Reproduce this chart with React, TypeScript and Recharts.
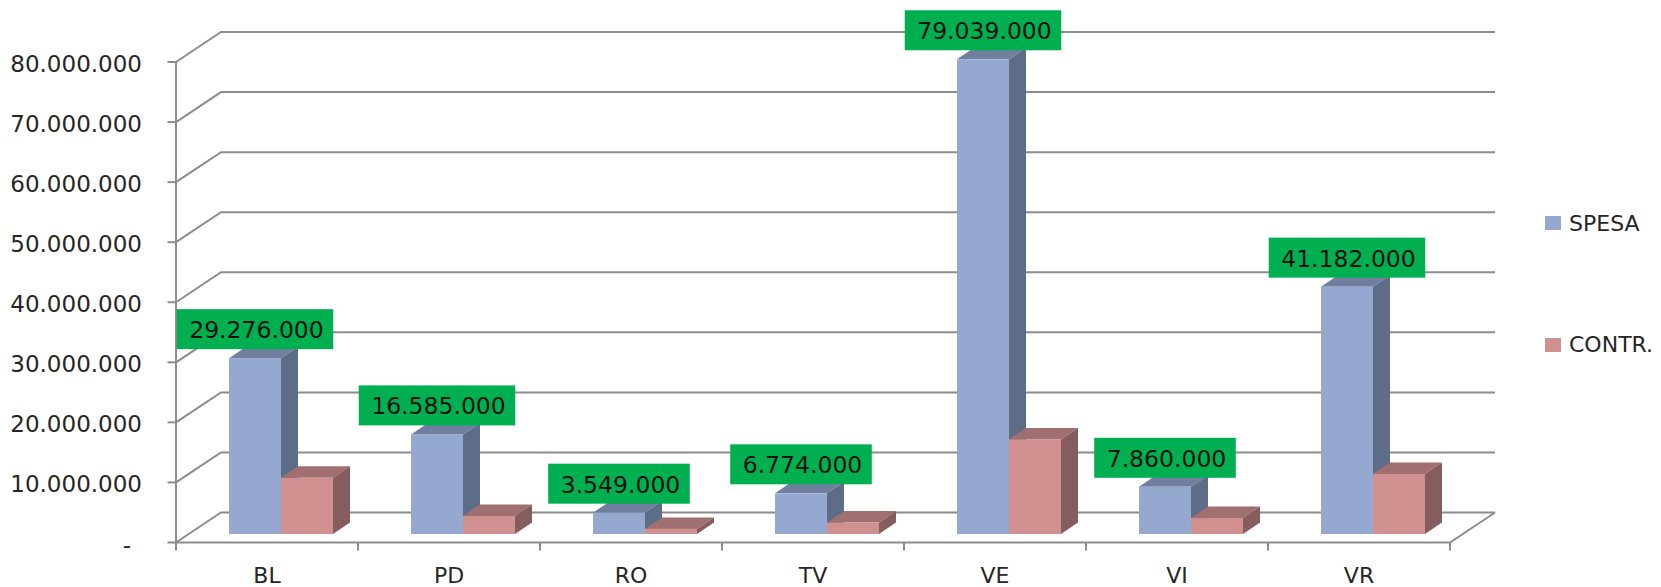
import React from "react";
import {
  BarChart,
  Bar,
  XAxis,
  YAxis,
  CartesianGrid,
  Legend,
  LabelList,
} from "recharts";

// data
const CATEGORIES = ["BL", "PD", "RO", "TV", "VE", "VI", "VR"];
const SPESA = [29276000, 16585000, 3549000, 6774000, 79039000, 7860000, 41182000];
const CONTR = [9350000, 3000000, 850000, 1900000, 15750000, 2650000, 10000000];
const Y_TICKS = [0, 10000000, 20000000, 30000000, 40000000, 50000000, 60000000, 70000000, 80000000];
const SERIES_NAMES = ["SPESA", "CONTR."];

const data = CATEGORIES.map((cat, i) => ({ cat, spesa: SPESA[i], contr: CONTR[i] }));

// chart geometry (the bar plane is the recharts plot area)
const W = 1661;
const H = 587;
const PLOT = { left: 190, top: 53.5, right: 1464, bottom: 534 };
const FRONT = { dx: -14, dy: 8.5 };
const BACK = { dx: 31, dy: -21.5 };
const BAR_DEPTH = { dx: 17, dy: -11.5 };

const FONT = "'DejaVu Sans', Verdana, sans-serif";
const GRID = "#8C8C8C";
const TEXT = "#262626";

const BLUE = { front: "#95A8CF", side: "#5E6D87", top: "#717F9F" };
const PINK = { front: "#D19090", side: "#865D5D", top: "#A07070" };

const fmt = (v: number) =>
  v === 0 ? "-" : String(v).replace(/\B(?=(\d{3})+(?!\d))/g, ".");

function Bar3D(props: any) {
  const { x, y, width, height, colors } = props;
  if (!height || height <= 0) return null;
  const { dx, dy } = BAR_DEPTH;
  const top = `${x},${y} ${x + dx},${y + dy} ${x + width + dx},${y + dy} ${x + width},${y}`;
  const side = `${x + width},${y} ${x + width + dx},${y + dy} ${x + width + dx},${y + height + dy} ${x + width},${y + height}`;
  return (
    <g>
      <polygon points={top} fill={colors.top} />
      <polygon points={side} fill={colors.side} />
      <rect x={x} y={y} width={width} height={height} fill={colors.front} />
    </g>
  );
}

function textWidth(s: string, size: number) {
  let w = 0;
  for (const ch of s) w += ch === "." ? 0.318 : 0.636;
  return w * size;
}

function ValueLabel(props: any) {
  const { x, y, width, value } = props;
  const label = fmt(Number(value));
  const size = 23.5;
  const bw = textWidth(label, size) + 22;
  const bh = 40;
  const cx = x + width / 2;
  const bottom = y - 9;
  return (
    <g>
      <rect x={cx - bw / 2} y={bottom - bh} width={bw} height={bh} fill="#00B050" />
      <text
        x={cx + 1.5}
        y={bottom - bh / 2 + 1}
        textAnchor="middle"
        dominantBaseline="central"
        fontFamily={FONT}
        fontSize={size}
        fill="#111"
      >
        {label}
      </text>
    </g>
  );
}

function YTick(props: any) {
  const { y, payload } = props;
  const fx = PLOT.left + FRONT.dx;
  const fy = y + FRONT.dy;
  const isZero = payload.value === 0;
  return (
    <g>
      <line x1={fx - 8.5} y1={fy} x2={fx} y2={fy} stroke={GRID} strokeWidth={2} />
      <text
        x={isZero ? 131 : 142}
        y={fy + 2}
        textAnchor="end"
        dominantBaseline="central"
        fontFamily={FONT}
        fontSize={23}
        fill={TEXT}
      >
        {fmt(payload.value)}
      </text>
    </g>
  );
}

function XTick(props: any) {
  const { x, payload, index } = props;
  const half = payload.offset || 91;
  const cx = x + FRONT.dx;
  const floorY = PLOT.bottom + FRONT.dy;
  return (
    <g>
      {index === 0 && (
        <line x1={cx - half} y1={floorY} x2={cx - half} y2={floorY + 8} stroke={GRID} strokeWidth={2} />
      )}
      <line x1={cx + half} y1={floorY} x2={cx + half} y2={floorY + 8} stroke={GRID} strokeWidth={2} />
      <text
        x={cx}
        y={575}
        textAnchor="middle"
        dominantBaseline="central"
        fontFamily={FONT}
        fontSize={22}
        fill={TEXT}
      >
        {payload.value}
      </text>
    </g>
  );
}

function GridLine(props: any) {
  const { x1, x2, y1, index } = props;
  const pts = `${x1 + FRONT.dx},${y1 + FRONT.dy} ${x1 + BACK.dx},${y1 + BACK.dy} ${x2 + BACK.dx},${y1 + BACK.dy}`;
  return <polyline key={`gl-${index}-${y1}`} points={pts} fill="none" stroke={GRID} strokeWidth={2} />;
}

function Frame() {
  const left = PLOT.left + FRONT.dx;
  const right = PLOT.right + FRONT.dx;
  const top = PLOT.top + FRONT.dy;
  const floor = PLOT.bottom + FRONT.dy;
  return (
    <g>
      <line x1={left} y1={top} x2={left} y2={floor} stroke={GRID} strokeWidth={2} />
      <polyline
        points={`${left},${floor} ${right},${floor} ${PLOT.right + BACK.dx},${PLOT.bottom + BACK.dy}`}
        fill="none"
        stroke={GRID}
        strokeWidth={2}
      />
    </g>
  );
}

function LegendContent(props: any) {
  const items = [...(props.payload || [])].sort(
    (a: any, b: any) => SERIES_NAMES.indexOf(a.value) - SERIES_NAMES.indexOf(b.value)
  );
  return (
    <div style={{ fontFamily: FONT, fontSize: 22, color: TEXT }}>
      {items.map((item: any, i: number) => (
        <div
          key={item.value}
          style={{ display: "flex", alignItems: "center", height: 24, marginBottom: i === 0 ? 97.7 : 0 }}
        >
          <span
            style={{ width: 16, height: 14, background: item.color, marginRight: 8, display: "inline-block" }}
          />
          <span>{item.value}</span>
        </div>
      ))}
    </div>
  );
}

export default function App() {
  return (
    <div style={{ position: "absolute", left: 0, top: 0, width: W, height: H, background: "#fff" }}>
      <BarChart
        width={W}
        height={H}
        data={data}
        margin={{ top: PLOT.top, right: W - PLOT.right, bottom: 0, left: 0 }}
        barGap={0}
        barSize={52}
      >
        <CartesianGrid vertical={false} horizontal={GridLine} />
        <XAxis
          dataKey="cat"
          height={H - PLOT.bottom}
          axisLine={false}
          tickLine={false}
          tick={XTick}
          interval={0}
        />
        <YAxis
          width={PLOT.left}
          domain={[0, 80000000]}
          ticks={Y_TICKS}
          axisLine={false}
          tickLine={false}
          tick={YTick}
          interval={0}
        />
        <Frame />
        <Bar
          dataKey="spesa"
          name={SERIES_NAMES[0]}
          fill={BLUE.front}
          isAnimationActive={false}
          shape={(p: any) => <Bar3D {...p} colors={BLUE} />}
        >
          <LabelList dataKey="spesa" content={ValueLabel} />
        </Bar>
        <Bar
          dataKey="contr"
          name={SERIES_NAMES[1]}
          fill={PINK.front}
          isAnimationActive={false}
          shape={(p: any) => <Bar3D {...p} colors={PINK} />}
        />
        <Legend
          layout="vertical"
          verticalAlign="middle"
          align="center"
          content={LegendContent}
          wrapperStyle={{ left: 1545, top: 211, width: 116, right: "auto", bottom: "auto" }}
        />
      </BarChart>
    </div>
  );
}
